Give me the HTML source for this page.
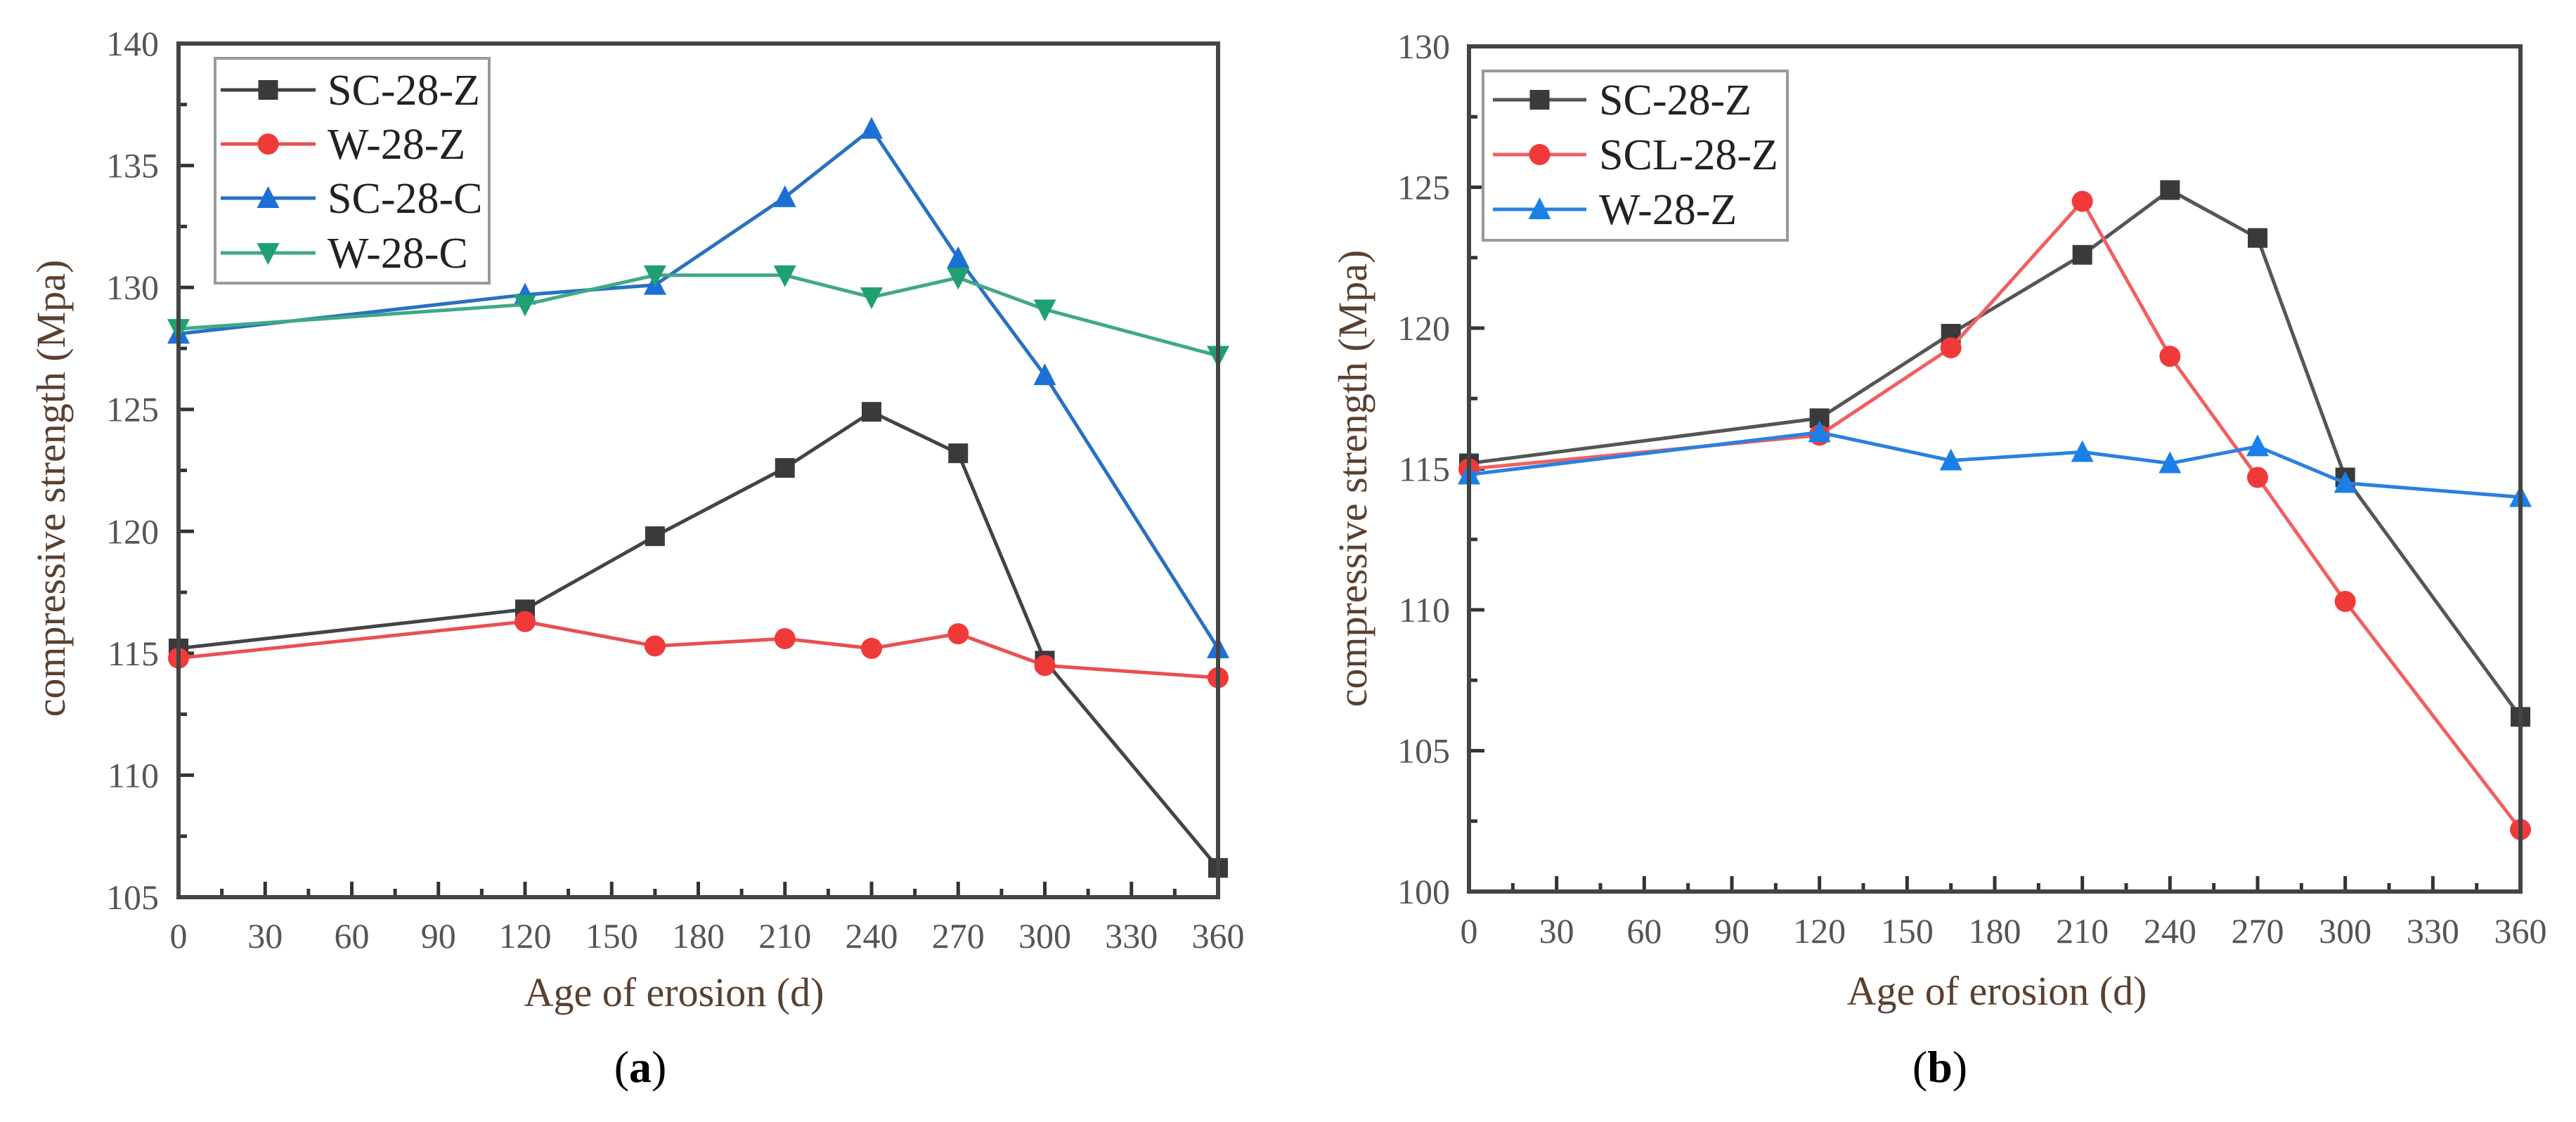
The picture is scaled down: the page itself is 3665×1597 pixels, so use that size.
<!DOCTYPE html>
<html><head><meta charset="utf-8"><style>
html,body{margin:0;padding:0;background:#fff}
svg{display:block}
svg text, svg tspan{font-family:"Liberation Serif",serif}
</style></head><body>
<svg id="s" width="3665" height="1597" viewBox="0 0 3665 1597" font-family="Liberation Serif, serif" xmlns="http://www.w3.org/2000/svg"></svg>
<script>
const xDays=[0,120,165,210,240,270,300,360];
const xTicks=[0,30,60,90,120,150,180,210,240,270,300,330,360];
const aTicks=[105,110,115,120,125,130,135,140];
const bTicks=[100,105,110,115,120,125,130];
const aSC28Z=[115.2,116.8,119.8,122.6,124.9,123.2,114.7,106.2];
const aW28Z=[114.8,116.3,115.3,115.6,115.2,115.8,114.5,114.0];
const aSC28C=[128.1,129.7,130.1,133.7,136.5,131.2,126.4,115.2];
const aW28C=[128.3,129.3,130.5,130.5,129.6,130.4,129.1,127.2];
const bSC28Z=[115.2,116.8,119.8,122.6,124.9,123.2,114.7,106.2];
const bSCL28Z=[115.0,116.2,119.3,124.5,119.0,114.7,110.3,102.2];
const bW28Z=[114.8,116.3,115.3,115.6,115.2,115.8,114.5,114.0];
const seriesA=['SC-28-Z','W-28-Z','SC-28-C','W-28-C'];
const seriesB=['SC-28-Z','SCL-28-Z','W-28-Z'];

const NS='http://www.w3.org/2000/svg';
const svg=document.getElementById('s');
function el(tag,attrs,parent,txt){const e=document.createElementNS(NS,tag);for(const k in attrs)e.setAttribute(k,attrs[k]);if(tag==='text')e.setAttribute('font-family','Liberation Serif, serif');if(txt!=null)e.textContent=txt;(parent||svg).appendChild(e);return e;}

function marker(g,shape,cx,cy,col){
  const r=15;let m;
  if(shape==='sq') m=el('rect',{x:cx-r+1,y:cy-r+1,width:2*r-2,height:2*r-2,fill:col},g);
  else if(shape==='ci') m=el('circle',{cx:cx,cy:cy,r:r,fill:col},g);
  else if(shape==='up') m=el('polygon',{points:`${cx},${cy-r-2} ${cx+r+1},${cy+r-1} ${cx-r-1},${cy+r-1}`,fill:col},g);
  else m=el('polygon',{points:`${cx},${cy+r+2} ${cx+r+1},${cy-r+1} ${cx-r-1},${cy-r+1}`,fill:col},g);
  
  
}

function chart(cfg){
  const g=el('g',{},svg);
  
  
  const {L,R,T,B,ymin,ymax}=cfg;
  const sx=v=>L+(v-0)/(360-0)*(R-L);
  const sy=v=>B-(v-ymin)/(ymax-ymin)*(B-T);
  for(let v=0;v<=360;v+=15){
    const major=v%30===0;
    const t=el('line',{x1:sx(v),x2:sx(v),y1:B,y2:B-(major?22:12),stroke:'#333','stroke-width':5},g);
    
  }
  xTicks.forEach(v=>{const t=el('text',{x:sx(v),y:cfg.xly,'font-size':50,'text-anchor':'middle',fill:'#555'},g,String(v));
    });
  for(let v=ymin;v<=ymax;v+=2.5){
    const major=Math.abs(v%5)<1e-6;
    const t=el('line',{x1:L,x2:L+(major?22:12),y1:sy(v),y2:sy(v),stroke:'#333','stroke-width':5},g);
    
  }
  cfg.yTicks.forEach(v=>{const t=el('text',{x:cfg.ylx,y:sy(v)+17,'font-size':50,'text-anchor':'end',fill:'#555'},g,String(v));
    });
  cfg.series.forEach(s=>{
    const sg=el('g',{},g);
    
    
    const pts=xDays.map((d,i)=>sx(d)+','+sy(s.vals[i])).join(' ');
    el('polyline',{points:pts,fill:'none',stroke:s.line,'stroke-width':5},sg);
    xDays.forEach((d,i)=>marker(sg,s.shape,sx(d),sy(s.vals[i]),s.col));
  });
  const f=el('rect',{x:L,y:T,width:R-L,height:B-T,fill:'none',stroke:'#444','stroke-width':6},g);
  
  const lg=el('g',{},g);
  
  const lb=cfg.leg;
  el('rect',{x:lb.x,y:lb.y,width:lb.w,height:lb.h,fill:'#fff',stroke:'#999','stroke-width':4},lg);
  cfg.series.forEach((s,i)=>{
    const ey=lb.ey[i];
    const eg=el('g',{},lg);
    
    el('line',{x1:lb.lx1,x2:lb.lx2,y1:ey,y2:ey,stroke:s.line,'stroke-width':5},eg);
    marker(eg,s.shape,(lb.lx1+lb.lx2)/2,ey,s.col);
    el('text',{x:lb.tx,y:ey+21,'font-size':62,fill:'#222'},eg,s.name);
  });
  const xt=el('text',{x:cfg.xt[0],y:cfg.xt[1],'font-size':58,'text-anchor':'middle',fill:'#5a4030'},g,'Age of erosion (d)');
  
  const yt=el('text',{x:0,y:0,'font-size':58,'text-anchor':'middle',fill:'#5a4030',transform:`translate(${cfg.yt[0]},${cfg.yt[1]}) rotate(-90)`},g,'compressive strength (Mpa)');
  
  const pl=el('text',{x:cfg.pl[0],y:cfg.pl[1],'font-size':64,'text-anchor':'middle',fill:'#000'},g);
  
  el('tspan',{},pl,'(');el('tspan',{'font-weight':'bold'},pl,cfg.lab);el('tspan',{},pl,')');
}

chart({id:'chart-a',L:254,R:1733,T:62,B:1277,ymin:105,ymax:140,yTicks:aTicks,xly:1349,ylx:226,
  series:[
    {name:seriesA[0],vals:aSC28Z,line:'#444',col:'#3a3a3a',shape:'sq'},
    {name:seriesA[1],vals:aW28Z,line:'#e85050',col:'#f03a3a',shape:'ci'},
    {name:seriesA[2],vals:aSC28C,line:'#2a70c0',col:'#1d6fd6',shape:'up'},
    {name:seriesA[3],vals:aW28C,line:'#40a888',col:'#1ea070',shape:'dn'}],
  leg:{x:306,y:83,w:390,h:320,ey:[128,205,282,360],lx1:314,lx2:449,tx:466},
  xt:[959,1432],yt:[92,695],pl:[911,1540],lab:'a'});

chart({id:'chart-b',L:2090,R:3586,T:66,B:1269,ymin:100,ymax:130,yTicks:bTicks,xly:1342,ylx:2063,
  series:[
    {name:seriesB[0],vals:bSC28Z,line:'#555',col:'#3a3a3a',shape:'sq'},
    {name:seriesB[1],vals:bSCL28Z,line:'#f06060',col:'#f03a3a',shape:'ci'},
    {name:seriesB[2],vals:bW28Z,line:'#2a80e0',col:'#1a7fe6',shape:'up'}],
  leg:{x:2110,y:101,w:433,h:241,ey:[142,220,298],lx1:2124,lx2:2257,tx:2275},
  xt:[2841,1430],yt:[1944,681],pl:[2760,1540],lab:'b'});
</script>
</body></html>
